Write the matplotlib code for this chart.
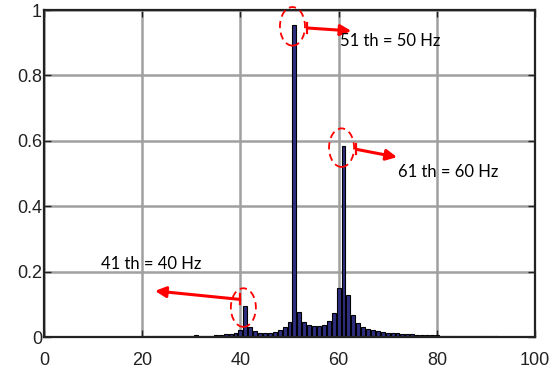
import matplotlib
matplotlib.use('Agg')
import matplotlib.pyplot as plt
from matplotlib.patches import Ellipse
import numpy as np

# harmonic index (bar position) and normalized amplitude
harmonicIdx = list(range(1, 101))
amplitude = [
    0.001, 0.001, 0.001, 0.001, 0.001, 0.001, 0.001, 0.001, 0.001, 0.001,    # 1-10
    0.0015, 0.0015, 0.0015, 0.0015, 0.0015, 0.0015, 0.0015, 0.0015, 0.0015, 0.0015,  # 11-20
    0.002, 0.002, 0.002, 0.0025, 0.0025, 0.003, 0.003, 0.003, 0.003, 0.003,  # 21-30
    0.007, 0.003, 0.004, 0.004, 0.005, 0.006, 0.008, 0.009, 0.013, 0.022,    # 31-40
    0.095, 0.031, 0.017, 0.013, 0.012, 0.013, 0.015, 0.022, 0.032, 0.047,    # 41-50
    0.955, 0.076, 0.045, 0.037, 0.033, 0.033, 0.038, 0.050, 0.073, 0.149,    # 51-60
    0.584, 0.129, 0.068, 0.044, 0.032, 0.025, 0.021, 0.018, 0.015, 0.013,    # 61-70
    0.012, 0.011, 0.010, 0.009, 0.008, 0.007, 0.006, 0.006, 0.005, 0.005,    # 71-80
    0.004, 0.004, 0.003, 0.003, 0.003, 0.003, 0.002, 0.002, 0.002, 0.002,    # 81-90
    0.002, 0.002, 0.0015, 0.0015, 0.0015, 0.001, 0.001, 0.001, 0.001, 0.001, # 91-100
]
xticks = [0, 20, 40, 60, 80, 100]
yticks = [0, 0.2, 0.4, 0.6, 0.8, 1.0]
yticklabels = ['0', '0.2', '0.4', '0.6', '0.8', '1']

# annotated peaks: (bar index, label, label x, label y, arrow end x, arrow end y)
peaks = [
    (51, '51 th = 50 Hz', 60.2, 0.905, 62.6, 0.936),
    (61, '61 th = 60 Hz', 72.0, 0.506, 71.9, 0.55),
    (41, '41 th = 40 Hz', 11.6, 0.222, 22.6, 0.141),
]

fig = plt.figure(figsize=(5.58, 3.76), dpi=100)
ax = fig.add_axes([0.0789, 0.1037, 0.8799, 0.8697])

ax.bar(harmonicIdx, amplitude, width=0.8, color='#2e2e80', edgecolor='black', linewidth=0.8, zorder=2)

ax.set_xlim(0, 100)
ax.set_ylim(0, 1)
ax.set_xticks(xticks)
ax.set_yticks(yticks)
ax.set_yticklabels(yticklabels)
ax.set_axisbelow(True)
ax.grid(True, color='#a0a0a0', linewidth=1.8)
ax.tick_params(direction='in', length=5, width=1, top=True, right=True,
               labelsize=13, colors='#222222')
ax.tick_params(axis='x', pad=11)
ax.tick_params(axis='y', pad=1.5)
for lab in ax.get_xticklabels() + ax.get_yticklabels():
    lab.set_fontfamily('Liberation Sans')
for sp in ax.spines.values():
    sp.set_linewidth(1.6)
    sp.set_color('#222222')

for idx, label, tx, ty, ax_end, ay_end in peaks:
    h = amplitude[idx - 1]
    # dashed ellipse around the peak
    ax.add_patch(Ellipse((idx - 0.4, h - 0.005), 5.1, 0.118, fill=False, edgecolor='red',
                         linestyle=(0, (4, 2.5)), linewidth=1.3, zorder=4, clip_on=False))
    if idx == 41:
        x0 = idx - 1.1
        y0 = h + 0.02
    else:
        x0 = idx + 2.6
        y0 = h - 0.01
    ax.annotate('', xy=(ax_end, ay_end), xytext=(x0, y0),
                arrowprops=dict(arrowstyle='-|>', color='red', lw=2.2, mutation_scale=16,
                                shrinkA=0, shrinkB=0),
                annotation_clip=False, zorder=5)
    ax.plot([x0, x0], [y0 - 0.015, y0 + 0.015], color='red', lw=1.6, zorder=5, clip_on=False)
    ax.text(tx, ty, label, fontsize=12, family='Lato', color='black', va='center', ha='left', zorder=5)

fig.savefig('out.png', dpi=100)
